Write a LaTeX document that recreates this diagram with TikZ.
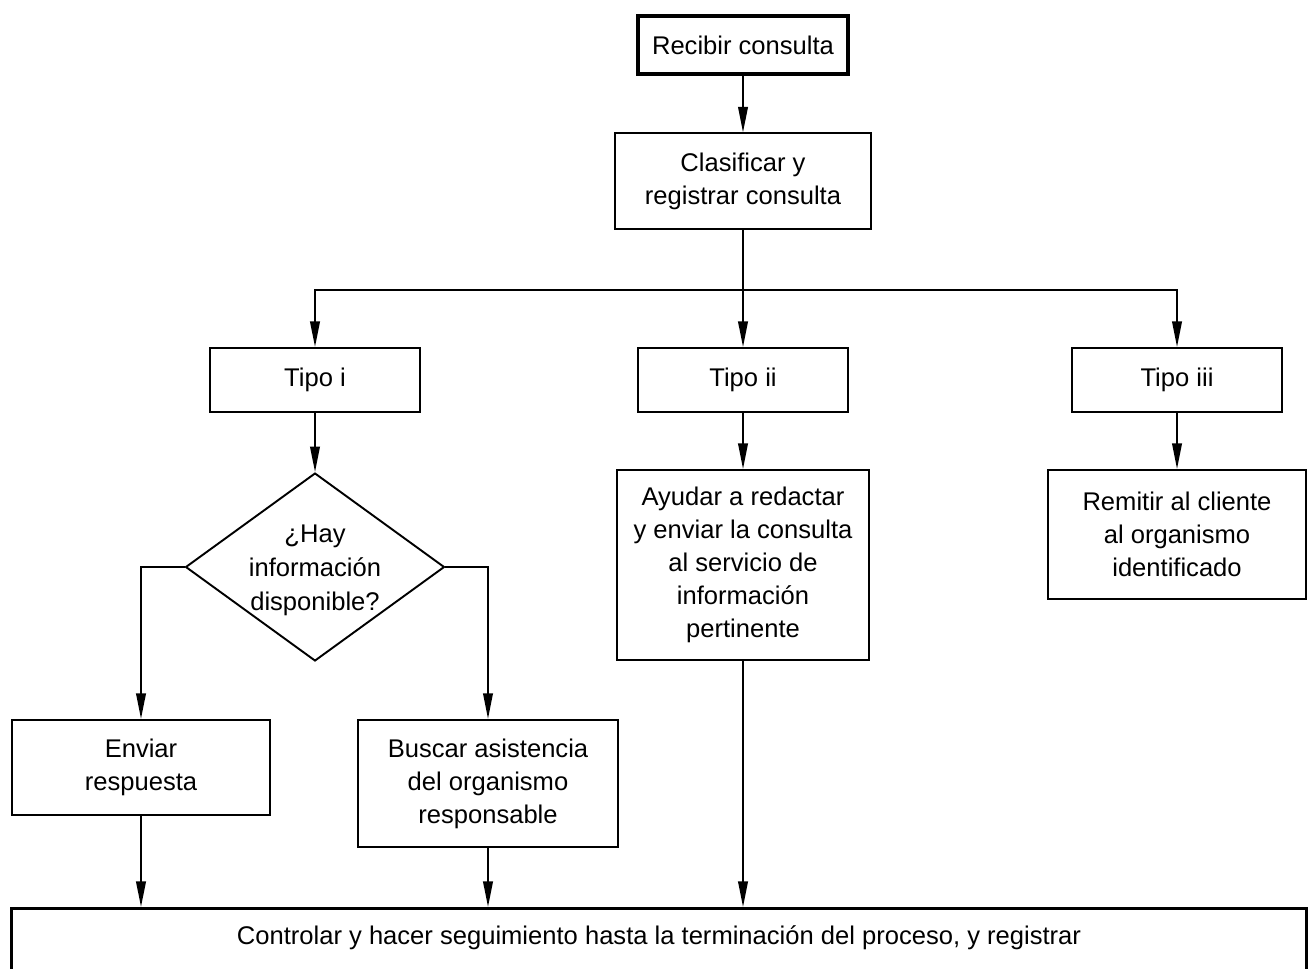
\documentclass[tikz,border=0pt]{standalone}
\usepackage{fontspec}
\setmainfont{Liberation Sans}
\usetikzlibrary{arrows.meta,positioning,shapes.geometric}

\begin{document}
\begin{tikzpicture}[x=0.0165cm,y=-0.0165cm]
	\tikzstyle{stepbox}=[rectangle, draw=black, line width=0.9pt, align=center, inner sep=2pt, font=\fontsize{12}{15.5}\selectfont]
	\tikzstyle{startbox}=[stepbox, line width=1.6pt]
	\tikzstyle{tipobox}=[stepbox, minimum width=3.465cm, minimum height=1.056cm]
	\tikzstyle{decision}=[diamond, draw=black, line width=0.9pt, inner sep=0pt, minimum width=4.27cm, minimum height=3.10cm]
	\tikzstyle{connect}=[-{Triangle[length=12pt,width=4.5pt]}, line width=0.9pt]
	\useasboundingbox (0,0) rectangle (1315,968);
	\node[startbox, minimum width=3.465cm, minimum height=0.957cm] (recibir) at (743,45) {Recibir consulta};
	\node[stepbox, minimum width=4.21cm, minimum height=1.57cm] (clasificar) at (743,181) {Clasificar y\\registrar consulta};
	\node[tipobox] (tipoi) at (315,380) {Tipo i};
	\node[tipobox] (tipoii) at (743,380) {Tipo ii};
	\node[tipobox] (tipoiii) at (1177,380) {Tipo iii};
	\node[decision] (hay) at (315,567) [label={[align=center, font=\fontsize{12}{16}\selectfont, yshift=-1.5pt]center:¿Hay\\información\\disponible?}] {};
	\node[stepbox, minimum width=4.17cm, minimum height=3.135cm] (ayudar) at (743,565) {Ayudar a redactar\\y enviar la consulta\\al servicio de\\información\\pertinente};
	\node[stepbox, minimum width=4.26cm, minimum height=2.13cm] (remitir) at (1177,534.5) {Remitir al cliente\\al organismo\\identificado};
	\node[stepbox, minimum width=4.26cm, minimum height=1.57cm] (enviar) at (141,767.5) {Enviar\\respuesta};
	\node[stepbox, minimum width=4.29cm, minimum height=2.10cm] (buscar) at (488,783.5) {Buscar asistencia\\del organismo\\responsable};
	\node[stepbox, line width=1.3pt, anchor=north, minimum width=21.35cm, inner ysep=4pt, text height=13pt, text depth=2cm] (controlar) at (659,907) {Controlar y hacer seguimiento hasta la terminación del proceso, y registrar};
	\coordinate (reparto) at (743,290);
	\path (recibir) edge [connect] (clasificar)
	(clasificar) edge [connect] (tipoii)
	(tipoi) edge [connect] (hay)
	(tipoii) edge [connect] (ayudar)
	(tipoiii) edge [connect] (remitir);
	\draw[connect] (reparto) -| (tipoi);
	\draw[connect] (reparto) -| (tipoiii);
	\draw[connect] (hay.west) -| (enviar);
	\draw[connect] (hay.east) -| (buscar);
	\draw[connect] (enviar) -- (enviar |- controlar.north);
	\draw[connect] (buscar) -- (buscar |- controlar.north);
	\draw[connect] (ayudar) -- (ayudar |- controlar.north);
\end{tikzpicture}
\end{document}
